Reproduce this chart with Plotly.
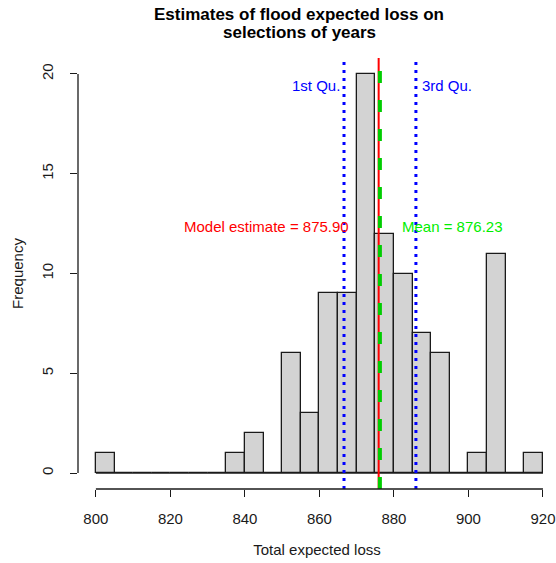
import plotly.graph_objects as go

bin_edges = [800, 805, 810, 815, 820, 825, 830, 835, 840, 845, 850, 855, 860,
             865, 870, 875, 880, 885, 890, 895, 900, 905, 910, 915, 920]
counts = [1, 0, 0, 0, 0, 0, 0, 1, 2, 0, 6, 3, 9, 9, 20, 12, 10, 7, 6, 0, 1, 11, 0, 1]
q1 = 866.6
q3 = 885.9
model_est = 875.90
mean_val = 876.23
x_ticks = [800, 820, 840, 860, 880, 900, 920]
y_ticks = [0, 5, 10, 15, 20]
title_lines = ["Estimates of flood expected loss on", "selections of years"]

FONT = "Liberation Sans, Arial, sans-serif"
W, H = 556, 563
ML, MR, MT, MB = 78, 0, 58, 74
PW, PH = W - ML - MR, H - MT - MB

centers = [(a + b) / 2 for a, b in zip(bin_edges[:-1], bin_edges[1:])]
widths = [b - a for a, b in zip(bin_edges[:-1], bin_edges[1:])]

fig = go.Figure()
fig.add_trace(go.Bar(x=centers, y=counts, width=widths,
                     marker=dict(color="#D3D3D3", line=dict(color="#1a1a1a", width=1.3)),
                     showlegend=False, hoverinfo="x+y"))
# baseline for empty bins
fig.add_trace(go.Scatter(x=[bin_edges[0], bin_edges[-1]], y=[0, 0], mode="lines",
                         line=dict(color="#1a1a1a", width=1.3), showlegend=False, hoverinfo="skip"))

# vertical reference lines
fig.add_shape(type="line", xref="x", yref="paper", x0=q1, x1=q1, y0=0, y1=1,
              line=dict(color="#0000FF", width=3, dash="3px,5px"))
fig.add_shape(type="line", xref="x", yref="paper", x0=q3, x1=q3, y0=0, y1=1,
              line=dict(color="#0000FF", width=3, dash="3px,5px"))
fig.add_shape(type="line", xref="x", yref="paper", x0=model_est, x1=model_est, y0=0, y1=1,
              line=dict(color="#FF0000", width=2))
fig.add_shape(type="line", xref="x", yref="paper", x0=mean_val, x1=mean_val, y0=0, y1=1,
              line=dict(color="#00CD00", width=4, dash="12px,17px"))

# axis lines spanning tick range (R style)
fig.add_shape(type="line", xref="x", yref="paper", x0=x_ticks[0], x1=x_ticks[-1], y0=0, y1=0,
              line=dict(color="#1a1a1a", width=1.3))
fig.add_shape(type="line", xref="paper", yref="y", x0=0, x1=0, y0=y_ticks[0], y1=y_ticks[-1],
              line=dict(color="#1a1a1a", width=1.3))

# annotations
fig.add_annotation(x=q1, y=19.4, text="1st Qu.", showarrow=False, xanchor="right",
                   xshift=-2, font=dict(color="#0000FF", size=15, family=FONT))
fig.add_annotation(x=q3, y=19.4, text="3rd Qu.", showarrow=False, xanchor="left",
                   xshift=4, font=dict(color="#0000FF", size=15, family=FONT))
fig.add_annotation(x=model_est, y=12.35, text=f"Model estimate = {model_est:.2f}", showarrow=False,
                   xanchor="right", xshift=-28, font=dict(color="#FF0000", size=15, family=FONT))
fig.add_annotation(x=mean_val, y=12.35, text=f"Mean = {mean_val:.2f}", showarrow=False,
                   xanchor="left", xshift=20, font=dict(color="#00EE00", size=15, family=FONT))

# title as two lines
for i, (line, ypix) in enumerate(zip(title_lines, [14, 33])):
    fig.add_annotation(xref="paper", yref="paper",
                       x=(299 - ML) / PW, y=(H - MB - ypix) / PH,
                       text=f"<b>{line}</b>", showarrow=False, xanchor="center", yanchor="middle",
                       font=dict(size=17, family=FONT, color="#000000"))

fig.update_layout(
    width=W, height=H,
    margin=dict(l=ML, r=MR, t=MT, b=MB),
    plot_bgcolor="white", paper_bgcolor="white",
    font=dict(family=FONT, size=15, color="#1a1a1a"),
    bargap=0,
    xaxis=dict(range=[795.2, 923.5], tickvals=x_ticks, showgrid=False, zeroline=False,
               showline=False, ticks="outside", ticklen=7, tickcolor="#1a1a1a", tickwidth=1.3,
               ticklabelstandoff=9, tickfont=dict(size=15),
               title=dict(text="Total expected loss", standoff=18, font=dict(size=15))),
    yaxis=dict(range=[-0.8, 20.8], tickvals=y_ticks, showgrid=False, zeroline=False,
               showline=False, ticks="outside", ticklen=7, tickcolor="#1a1a1a", tickwidth=1.3,
               tickangle=-90, ticklabelstandoff=11, tickfont=dict(size=15),
               title=dict(text="Frequency", standoff=11, font=dict(size=15))),
)

fig.write_html("out.html")
